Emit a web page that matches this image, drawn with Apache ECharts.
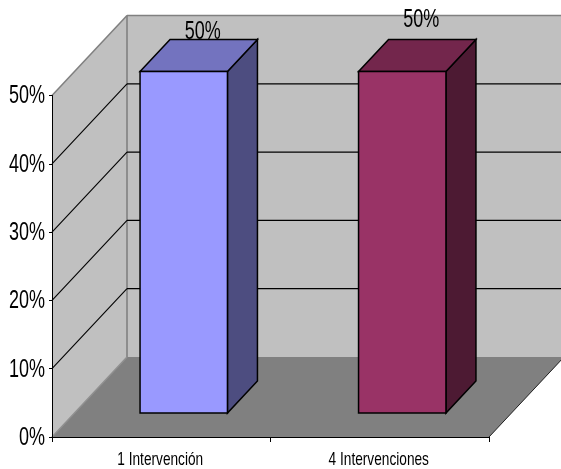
<!DOCTYPE html>
<html>
<head>
<meta charset="utf-8">
<style>html,body{margin:0;padding:0;background:#fff}#chart{width:561px;height:469px}</style>
<script src="https://cdn.jsdelivr.net/npm/echarts@6/dist/echarts.min.js"></script>
</head>
<body>
<div id="chart"></div>
<script>
const categories = ['1 Intervención', '4 Intervenciones'];
const shares = [50, 50];
const tickValues = [0, 10, 20, 30, 40, 50];

const barPalette = [
  { front: '#9999ff', top: '#7373bf', side: '#4d4d80' },
  { front: '#993366', top: '#73264c', side: '#4d1a33' }
];

// Oblique projection of the depth axis, in pixels.
const DEPTH_X = 75;
const DEPTH_Y = 80;
const BAR_NEAR = 0.3;
const BAR_FAR = 0.7;
const BAR_WIDTH_RATIO = 0.4;
const FONT = '"Liberation Sans", Arial, sans-serif';
// All text is horizontally condensed.
const TEXT_SQUEEZE = 0.72;

// Per-bar shifts of the value captions, relative to the centre of the bar's back edge.
const captionShift = [[4, -7.5], [4, -19.5]];

function poly(points, fill, stroke, lineWidth) {
  return {
    type: 'polygon',
    shape: { points },
    style: { fill, stroke: stroke || null, lineWidth: lineWidth || 0, lineJoin: 'miter' }
  };
}
function seg(x1, y1, x2, y2, stroke, lineWidth) {
  return {
    type: 'line',
    shape: { x1, y1, x2, y2 },
    style: { stroke, lineWidth }
  };
}
function squeezedText(text, x, y, size, align) {
  return {
    type: 'text',
    x,
    y,
    scaleX: TEXT_SQUEEZE,
    scaleY: 1,
    style: { text, x: 0, y: 0, align, verticalAlign: 'middle', font: size + 'px ' + FONT, fill: '#000' }
  };
}

function renderWalls(params) {
  const c = params.coordSys;
  const l = c.x, r = c.x + c.width, t = c.y, b = c.y + c.height;
  const dx = DEPTH_X, dy = DEPTH_Y;
  return {
    type: 'group',
    children: [
      poly([[l + dx, t - dy], [r + dx, t - dy], [r + dx, b - dy], [l + dx, b - dy]], '#c0c0c0'),
      poly([[l, t], [l + dx, t - dy], [l + dx, b - dy], [l, b]], '#c0c0c0'),
      poly([[l, b], [l + dx, b - dy], [r + dx, b - dy], [r, b]], '#808080'),
      seg(l, t, l + dx, t - dy, '#808080', 1.6),
      seg(l + dx, t - dy, r + dx, t - dy, '#808080', 1.6),
      seg(l + dx, t - dy, l + dx, b - dy, '#808080', 1.6),
      seg(l, b, l + dx, b - dy, '#909090', 1.4),
      seg(r, b, r + dx, b - dy, '#202020', 1)
    ]
  };
}

function renderGridLine(params, api) {
  const c = params.coordSys;
  const y = api.coord([0, api.value(0)])[1];
  const l = c.x, r = c.x + c.width;
  return {
    type: 'group',
    children: [
      seg(l, y, l + DEPTH_X, y - DEPTH_Y, '#000', 1.1),
      seg(l + DEPTH_X, y - DEPTH_Y, r + DEPTH_X, y - DEPTH_Y, '#000', 1.2)
    ]
  };
}

function renderBar(params, api) {
  const i = api.value(0);
  const top = api.coord([i, api.value(1)]);
  const base = api.coord([i, 0]);
  const w = api.size([1, 0])[0] * BAR_WIDTH_RATIO;
  const nx = DEPTH_X * BAR_NEAR, ny = DEPTH_Y * BAR_NEAR;
  const fx = DEPTH_X * BAR_FAR, fy = DEPTH_Y * BAR_FAR;
  const x0 = top[0] - w / 2, x1 = top[0] + w / 2;
  const colors = barPalette[i];
  const edge = '#000';
  const lw = 1.5;
  const shift = captionShift[i];
  return {
    type: 'group',
    children: [
      poly([[x1 + nx, top[1] - ny], [x1 + fx, top[1] - fy], [x1 + fx, base[1] - fy], [x1 + nx, base[1] - ny]], colors.side, edge, lw),
      poly([[x0 + nx, top[1] - ny], [x0 + fx, top[1] - fy], [x1 + fx, top[1] - fy], [x1 + nx, top[1] - ny]], colors.top, edge, lw),
      poly([[x0 + nx, top[1] - ny], [x1 + nx, top[1] - ny], [x1 + nx, base[1] - ny], [x0 + nx, base[1] - ny]], colors.front, edge, lw),
      squeezedText(api.value(1) + '%', top[0] + (nx + fx) / 2 + shift[0], top[1] - fy + shift[1], 25, 'center')
    ]
  };
}

function renderValueLabel(params, api) {
  const v = api.value(0);
  const p = api.coord([0, v]);
  return squeezedText(v + '%', params.coordSys.x - 7, p[1] + 1, 25, 'right');
}

function renderCategoryLabel(params, api) {
  const i = api.value(0);
  const p = api.coord([i, 0]);
  return squeezedText(categories[i], p[0] - 1, p[1] + 23, 19, 'center');
}

const chart = echarts.init(document.getElementById('chart'), null, { renderer: 'canvas' });
chart.setOption({
  animation: false,
  backgroundColor: '#fff',
  grid: { left: 52, right: 72, top: 95.5, bottom: 32, outerBoundsMode: 'none' },
  xAxis: {
    type: 'category',
    data: categories,
    z: 10,
    axisLine: { lineStyle: { color: '#000', width: 1 } },
    axisTick: { show: true, alignWithLabel: false, length: 5, lineStyle: { color: '#000' } },
    axisLabel: { show: false }
  },
  yAxis: {
    type: 'value',
    min: 0,
    max: 50,
    interval: 10,
    z: 10,
    axisLine: { show: true, lineStyle: { color: '#000', width: 1 } },
    axisTick: { show: true, length: 3, lineStyle: { color: '#000' } },
    axisLabel: { show: false },
    splitLine: { show: false }
  },
  series: [
    { type: 'custom', z: 1, silent: true, coordinateSystem: 'cartesian2d', renderItem: renderWalls, data: [[0, 0]], encode: { x: 0, y: 1 }, clip: false },
    // The wall outline already closes the top of the scale, so only inner ticks get a rule.
    { type: 'custom', z: 2, silent: true, coordinateSystem: 'cartesian2d', renderItem: renderGridLine, data: tickValues.slice(1, -1).map(v => [v]), encode: { y: 0 }, clip: false },
    { type: 'custom', z: 3, silent: true, coordinateSystem: 'cartesian2d', renderItem: renderBar, data: categories.map((_, i) => [i, shares[i]]), encode: { x: 0, y: 1 }, clip: false },
    { type: 'custom', z: 4, silent: true, coordinateSystem: 'cartesian2d', renderItem: renderValueLabel, data: tickValues.map(v => [v]), encode: { y: 0 }, clip: false },
    { type: 'custom', z: 4, silent: true, coordinateSystem: 'cartesian2d', renderItem: renderCategoryLabel, data: categories.map((_, i) => [i]), encode: { x: 0 }, clip: false }
  ]
});
</script>
</body>
</html>
